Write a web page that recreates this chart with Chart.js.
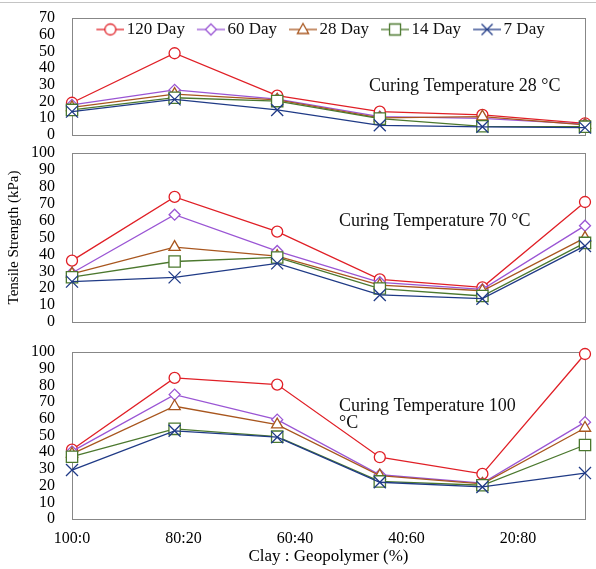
<!DOCTYPE html>
<html lang="en">
<head>
<meta charset="UTF-8" />
<title>Tensile Strength</title>
<script src="https://cdn.jsdelivr.net/npm/chart.js@4.4.1/dist/chart.umd.min.js"></script>
<style>
  html, body { margin: 0; padding: 0; background: #fff; }
  #wrap { position: relative; width: 596px; height: 569px; overflow: hidden; }
  #topline { position: absolute; left: 0; top: 2px; width: 596px; height: 1px; background: #c4c4c4; }
  canvas { position: absolute; left: 0; }
</style>
</head>
<body>
<div id="wrap">
  <div id="topline"></div>
  <canvas id="c28" width="596" height="145" style="top:0px"></canvas>
  <canvas id="c70" width="596" height="195" style="top:140px"></canvas>
  <canvas id="c100" width="596" height="239" style="top:330px"></canvas>
</div>
<script>
// data
const days = ["120 Day", "60 Day", "28 Day", "14 Day", "7 Day"];
const mixPos = [0, 1, 2, 3, 4, 5];
const xLabels = ["100:0", "80:20", "60:40", "40:60", "20:80"];

const temp28 = [
  [19.3, 48.9, 23.5, 14, 12, 7],
  [18, 27, 21.5, 11, 10, 6.5],
  [16.5, 24.5, 21, 10.2, 11, 6],
  [15, 22.3, 20.3, 9.8, 5.2, 5],
  [14, 21.3, 15, 5.8, 4.9, 4.4],
];
const temp70 = [
  [36.3, 74, 53.5, 25.2, 20.5, 71],
  [29, 63.5, 42, 23.5, 19.3, 57],
  [28.5, 44.3, 39, 21.8, 18.5, 49.8],
  [26.5, 35.8, 38.2, 19.8, 15.4, 46.8],
  [23.9, 26.4, 34.7, 16, 13.8, 45],
];
const temp100 = [
  [41.5, 84.5, 80.5, 37, 27, 98.8],
  [40.5, 74.5, 59.5, 26.5, 21.5, 58],
  [39, 67.5, 56.5, 26, 21, 54.5],
  [37.3, 54, 49.3, 22.5, 20.2, 44.3],
  [29.3, 52.8, 49, 22, 19.2, 27.5],
];

// styles
const colors = ["#e01f26", "#9a55d4", "#a8561e", "#4b782e", "#1f3a86"];
const markers = ["circle", "rectRot", "triangle", "rect", "crossRot"];
const radii = [5.5, 5.5, 6.5, 8, 8.5];
const serif = "'Liberation Serif', 'Times New Roman', serif";

function makeDatasets(rows) {
  return rows.map((row, k) => ({
    label: days[k],
    data: mixPos.map((x, i) => ({ x: x, y: row[i] })),
    borderColor: colors[k],
    borderWidth: 1.3,
    pointStyle: markers[k],
    pointRadius: radii[k],
    pointBorderColor: colors[k],
    pointBackgroundColor: "#ffffff",
    pointBorderWidth: 1.3,
    tension: 0,
    clip: false,
    order: k === 4 ? 0 : 5 - k,
  }));
}

// legend icon: line with marker in the middle
function legendIcon(k) {
  const c = document.createElement("canvas");
  c.width = 42;
  c.height = 16;
  const g = c.getContext("2d");
  g.strokeStyle = colors[k];
  g.lineWidth = 1.3;
  g.beginPath();
  g.moveTo(14, 8);
  g.lineTo(42, 8);
  g.stroke();
  const cx = 28, cy = 8;
  g.fillStyle = "#fff";
  g.beginPath();
  if (k === 0) {
    g.arc(cx, cy, 5.5, 0, Math.PI * 2);
  } else if (k === 1) {
    g.moveTo(cx, cy - 5.5); g.lineTo(cx + 5.5, cy); g.lineTo(cx, cy + 5.5); g.lineTo(cx - 5.5, cy); g.closePath();
  } else if (k === 2) {
    g.moveTo(cx, cy - 6); g.lineTo(cx + 5.6, cy + 4); g.lineTo(cx - 5.6, cy + 4); g.closePath();
  } else if (k === 3) {
    g.rect(cx - 5.5, cy - 5.5, 11, 11);
  }
  if (k < 4) { g.fill(); g.stroke(); }
  else {
    g.moveTo(cx - 5.5, cy - 5.5); g.lineTo(cx + 5.5, cy + 5.5);
    g.moveTo(cx + 5.5, cy - 5.5); g.lineTo(cx - 5.5, cy + 5.5);
    g.stroke();
  }
  return c;
}
const icons = days.map((_, k) => legendIcon(k));

const frame = {
  id: "frame",
  beforeDatasetsDraw(chart) {
    const a = chart.chartArea;
    const ctx = chart.ctx;
    ctx.save();
    ctx.strokeStyle = "#878787";
    ctx.lineWidth = 1;
    ctx.strokeRect(Math.round(a.left) + 0.5, Math.round(a.top) + 0.5,
      Math.round(a.right - a.left), Math.round(a.bottom - a.top));
    ctx.restore();
  },
};

const note = {
  id: "note",
  afterDatasetsDraw(chart, args, opts) {
    const ctx = chart.ctx;
    ctx.save();
    ctx.font = "18px " + serif;
    ctx.fillStyle = "#111";
    ctx.textAlign = "left";
    ctx.textBaseline = "middle";
    opts.lines.forEach((t, i) => ctx.fillText(t, opts.x, opts.y + i * 17));
    ctx.restore();
  },
};

function yAxis(max, title) {
  return {
    min: 0,
    max: max,
    grid: { display: false, drawTicks: false },
    border: { display: false },
    ticks: { stepSize: 10, autoSkip: false, padding: 17, color: "#000", font: { family: serif, size: 16 } },
    title: {
      display: !!title,
      text: title || "",
      color: "#000",
      font: { family: serif, size: 15 },
      padding: { top: 5, bottom: 0 },
    },
    afterFit: (s) => {
      s.width = 72;
      s.paddingTop = 8;
      s.paddingBottom = 8;
    },
  };
}

function baseOptions(ymax, pad, noteOpts, extra) {
  const o = {
    responsive: false,
    animation: false,
    events: [],
    layout: { padding: pad },
    scales: {
      x: { type: "linear", min: 0, max: 5, display: false },
      y: yAxis(ymax, extra && extra.ytitle),
    },
    plugins: {
      legend: { display: false },
      tooltip: { enabled: false },
      note: noteOpts,
    },
  };
  return o;
}

// 28 °C panel with legend inside the frame
const opt28 = baseOptions(70, { top: 18, bottom: 10, left: 0, right: 11 },
  { x: 369, y: 86, lines: ["Curing Temperature 28 °C"] });
opt28.plugins.legend = {
  display: true,
  position: "top",
  fullSize: false,
  labels: {
    usePointStyle: true,
    pointStyleWidth: 30,
    padding: 4,
    color: "#111",
    font: { family: serif, size: 17 },
    generateLabels: (chart) => chart.data.datasets.map((ds, i) => ({
      text: ds.label,
      pointStyle: icons[i],
      datasetIndex: i,
      fontColor: "#111",
      fillStyle: "transparent",
      strokeStyle: "transparent",
      lineWidth: 0,
      hidden: false,
    })),
  },
};
const chart28 = new Chart(document.getElementById("c28"), {
  type: "line",
  data: { datasets: makeDatasets(temp28) },
  options: opt28,
  plugins: [frame, note],
});
// let the legend sit inside the plot frame
const legend28 = chart28.legend;
const legendFit = legend28.fit;
legend28.fit = function () {
  legendFit.call(this);
  this.height = 0;
};
legend28.draw = function () {
  if (!this.options.display) return;
  this.ctx.save();
  this.ctx.translate(-12, -1);
  this._draw();
  this.ctx.restore();
};
chart28.update("none");

// 70 °C panel
const chart70 = new Chart(document.getElementById("c70"), {
  type: "line",
  data: { datasets: makeDatasets(temp70) },
  options: baseOptions(100, { top: 13, bottom: 13, left: 0, right: 11 },
    { x: 339, y: 81, lines: ["Curing Temperature 70 °C"] },
    { ytitle: "Tensile Strength (kPa)" }),
  plugins: [frame, note],
});

// 100 °C panel with the shared x labels
const opt100 = baseOptions(100, { top: 22, bottom: 0, left: 0, right: 11 },
  { x: 339, y: 76, lines: ["Curing Temperature 100", "°C"] });
opt100.scales.x2 = {
  type: "linear",
  position: "bottom",
  min: 0,
  max: 4.6,
  grid: { display: false, drawTicks: false },
  border: { display: false },
  afterBuildTicks: (s) => { s.ticks = xLabels.map((_, i) => ({ value: i })); },
  ticks: {
    autoSkip: false,
    maxRotation: 0,
    padding: 10,
    color: "#000",
    font: { family: serif, size: 16 },
    callback: (v, i) => xLabels[i],
  },
  title: {
    display: true,
    text: "Clay : Geopolymer (%)",
    color: "#000",
    font: { family: serif, size: 17 },
    padding: { top: 0, bottom: 2 },
  },
  afterFit: (s) => { s.height = 50; },
};
const chart100 = new Chart(document.getElementById("c100"), {
  type: "line",
  data: { datasets: makeDatasets(temp100) },
  options: opt100,
  plugins: [frame, note],
});
</script>
</body>
</html>
